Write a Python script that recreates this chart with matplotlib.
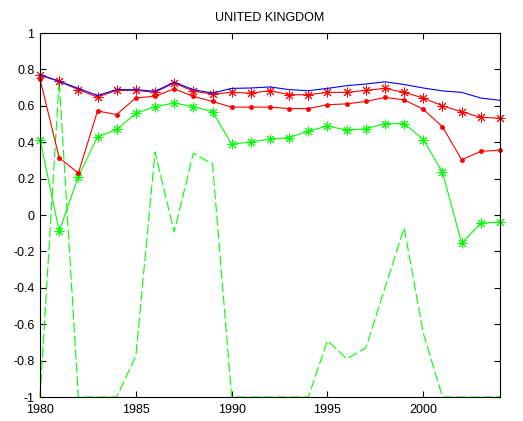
import matplotlib
matplotlib.use("Agg")
import matplotlib.pyplot as plt

years = list(range(1980, 2005))

blue_line = [0.772, 0.735, 0.696, 0.657, 0.689, 0.689, 0.680, 0.730, 0.689, 0.670,
             0.696, 0.698, 0.704, 0.689, 0.683, 0.696, 0.711, 0.720, 0.732, 0.717,
             0.698, 0.682, 0.674, 0.643, 0.630]

red_star = [0.767, 0.735, 0.689, 0.648, 0.685, 0.685, 0.674, 0.726, 0.680, 0.665,
            0.674, 0.670, 0.683, 0.661, 0.661, 0.674, 0.674, 0.685, 0.696, 0.674,
            0.643, 0.600, 0.567, 0.537, 0.532]

red_dot = [0.748, 0.315, 0.230, 0.572, 0.552, 0.644, 0.652, 0.694, 0.652, 0.624,
           0.593, 0.593, 0.593, 0.585, 0.585, 0.606, 0.611, 0.624, 0.646, 0.633,
           0.581, 0.485, 0.304, 0.350, 0.356]

green_star = [0.415, -0.089, 0.211, 0.430, 0.470, 0.559, 0.596, 0.615, 0.596, 0.568,
              0.389, 0.402, 0.417, 0.426, 0.461, 0.489, 0.467, 0.474, 0.502, 0.502,
              0.415, 0.235, -0.154, -0.046, -0.037]

green_dash = [-1.0, 0.74, -1.0, -1.0, -1.0, -0.775, 0.346, -0.093, 0.340, 0.280,
              -1.0, -1.0, -1.0, -1.0, -1.0, -0.690, -0.790, -0.730, -0.400, -0.070,
              -0.650, -1.0, -1.0, -1.0, -1.0]

x_ticks = [1980, 1985, 1990, 1995, 2000]
y_ticks = [-1, -0.8, -0.6, -0.4, -0.2, 0, 0.2, 0.4, 0.6, 0.8, 1]
y_tick_labels = ["-1", "-0.8", "-0.6", "-0.4", "-0.2", "0", "0.2", "0.4", "0.6", "0.8", "1"]

plt.rcParams["font.family"] = ["Liberation Sans", "DejaVu Sans"]

fig = plt.figure(figsize=(5.23, 4.21), dpi=100)
ax = fig.add_axes([0.0765, 0.057, 0.8795, 0.8645])

lw = 0.8
asterisk = (8, 2, 0)
ax.plot(years, green_dash, color=(0, 1, 0), lw=lw, linestyle=(0, (9, 3)), clip_on=False)
ax.plot(years, green_star, color=(0, 1, 0), lw=lw, marker=asterisk, markersize=7,
        markeredgewidth=0.7, clip_on=False)
ax.plot(years, red_dot, color=(1, 0, 0), lw=lw, marker=".", markersize=5, clip_on=False)
ax.plot(years, red_star, color=(1, 0, 0), lw=lw, marker=asterisk, markersize=7,
        markeredgewidth=0.7, clip_on=False)
ax.plot(years, blue_line, color=(0, 0, 1), lw=lw, clip_on=False)

ax.set_xlim(1980, 2004)
ax.set_ylim(-1, 1)
ax.set_xticks(x_ticks)
ax.set_xticklabels([str(t) for t in x_ticks])
ax.set_yticks(y_ticks)
ax.set_yticklabels(y_tick_labels)

ax.tick_params(direction="in", top=True, right=True, length=4, width=0.8,
               labelsize=9, colors="black")
ax.tick_params(axis="x", pad=5)
ax.tick_params(axis="y", pad=4)
for s in ax.spines.values():
    s.set_linewidth(0.8)

ax.set_title("UNITED KINGDOM", fontsize=9, pad=9)

fig.savefig("out.png", dpi=100)
